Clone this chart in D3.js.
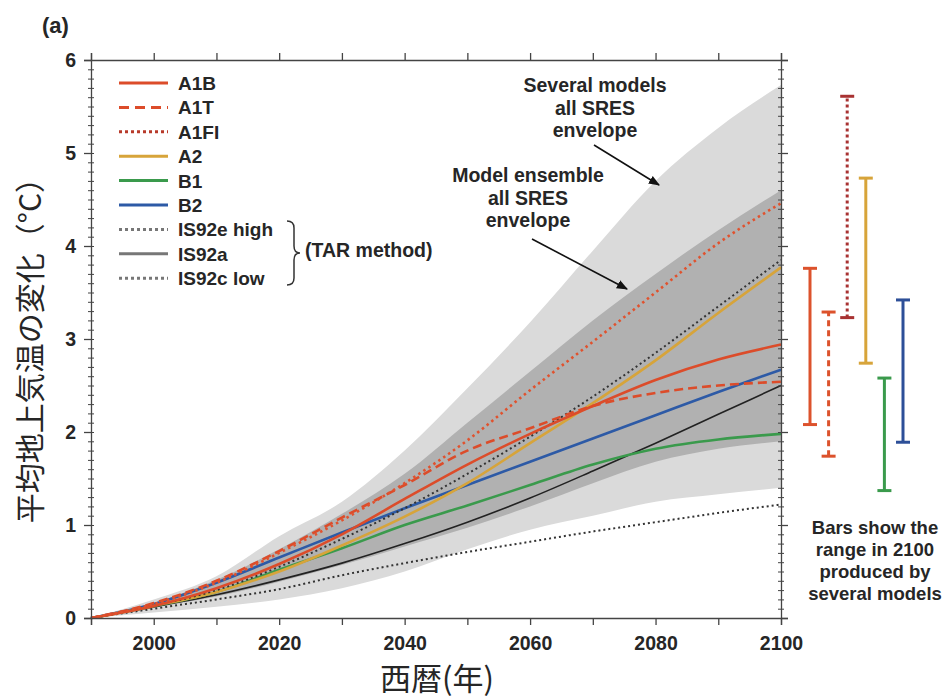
<!DOCTYPE html>
<html>
<head>
<meta charset="UTF-8">
<title></title>
<style>
    body { margin: 0; background: #fff; }
    text { font-family: "Liberation Sans", Arial, sans-serif; fill: #262626; }
    .jp { font-family: "Noto Sans CJK JP", sans-serif; }
</style>
</head>
<body>
<div id="chart"></div>
<script src="https://cdn.jsdelivr.net/npm/d3@7"></script>
<script>
    // data (temperature change from 1990, degC)
    var years = [1990, 2000, 2010, 2020, 2030, 2040, 2050, 2060, 2070, 2080, 2090, 2100];
    var a1b = [0, 0.13, 0.32, 0.58, 0.90, 1.28, 1.65, 1.98, 2.28, 2.56, 2.78, 2.94];
    var a1t = [0, 0.16, 0.40, 0.72, 1.08, 1.43, 1.80, 2.04, 2.28, 2.42, 2.50, 2.54];
    var a1fi = [0, 0.15, 0.38, 0.70, 1.05, 1.45, 1.91, 2.45, 2.97, 3.50, 4.03, 4.46];
    var a2 = [0, 0.13, 0.28, 0.50, 0.78, 1.09, 1.45, 1.88, 2.31, 2.77, 3.28, 3.77];
    var b1 = [0, 0.13, 0.28, 0.52, 0.75, 1.00, 1.21, 1.43, 1.65, 1.82, 1.92, 1.98];
    var b2 = [0, 0.15, 0.38, 0.65, 0.92, 1.18, 1.43, 1.68, 1.93, 2.18, 2.43, 2.67];
    var is92e = [0, 0.13, 0.30, 0.55, 0.85, 1.18, 1.55, 1.95, 2.38, 2.85, 3.35, 3.85];
    var is92a = [0, 0.12, 0.25, 0.41, 0.59, 0.80, 1.03, 1.29, 1.58, 1.88, 2.19, 2.50];
    var is92c = [0, 0.10, 0.20, 0.31, 0.46, 0.59, 0.71, 0.82, 0.93, 1.03, 1.13, 1.22];

    // envelopes
    var lightTop = [0, 0.20, 0.45, 0.88, 1.25, 1.80, 2.47, 3.18, 3.95, 4.70, 5.27, 5.73];
    var lightBot = [0, 0.06, 0.12, 0.20, 0.32, 0.50, 0.74, 0.95, 1.10, 1.25, 1.33, 1.40];
    var darkTop = [0, 0.16, 0.41, 0.74, 1.12, 1.55, 2.10, 2.65, 3.20, 3.70, 4.17, 4.60];
    var darkBot = [0, 0.11, 0.23, 0.39, 0.57, 0.77, 0.97, 1.20, 1.45, 1.68, 1.82, 1.90];

    // range bars in 2100
    var barNames = ["A1B", "A1T", "A1FI", "A2", "B1", "B2"];
    var barLow = [2.08, 1.74, 3.23, 2.74, 1.37, 1.89];
    var barHigh = [3.76, 3.29, 5.61, 4.73, 2.58, 3.42];

    var yTicks = [0, 1, 2, 3, 4, 5, 6];
    var xTickLabels = [2000, 2020, 2040, 2060, 2080, 2100];

    var width = 947, height = 699;
    var svg = d3.select("#chart").append("svg")
        .attr("width", width).attr("height", height);

    var x = d3.scaleLinear().domain([1990, 2100]).range([91, 781]);
    var y = d3.scaleLinear().domain([0, 6]).range([618, 60]);

    // envelopes
    var area = d3.area()
        .x(function (d) { return x(d.year); })
        .y0(function (d) { return y(d.lo); })
        .y1(function (d) { return y(d.hi); })
        .curve(d3.curveMonotoneX);
    var light = years.map(function (yr, i) { return {year: yr, lo: lightBot[i], hi: lightTop[i]}; });
    var dark = years.map(function (yr, i) { return {year: yr, lo: darkBot[i], hi: darkTop[i]}; });
    svg.append("path").attr("d", area(light)).attr("fill", "#dadada");
    svg.append("path").attr("d", area(dark)).attr("fill", "#b1b1b1");

    // scenario styles
    var series = [
        {name: "IS92c low", v: is92c, color: "#333", w: 2, dash: "2,3", lg: "#777"},
        {name: "IS92a", v: is92a, color: "#222", w: 1.6, dash: null, lg: "#777"},
        {name: "B1", v: b1, color: "#3a9a4c", w: 2.6, dash: null},
        {name: "B2", v: b2, color: "#2d5aa6", w: 2.6, dash: null},
        {name: "A2", v: a2, color: "#d7a43a", w: 2.6, dash: null},
        {name: "IS92e high", v: is92e, color: "#333", w: 2, dash: "2,3", lg: "#777"},
        {name: "A1T", v: a1t, color: "#dc4c2a", w: 2.6, dash: "9,5"},
        {name: "A1B", v: a1b, color: "#dc4c2a", w: 2.6, dash: null},
        {name: "A1FI", v: a1fi, color: "#e0522e", w: 2.6, dash: "2.5,3.5"}
    ];
    var line = d3.line()
        .x(function (d, i) { return x(years[i]); })
        .y(function (d) { return y(d); })
        .curve(d3.curveMonotoneX);
    svg.append("g").selectAll("path")
        .data(series)
        .join("path")
        .attr("d", function (d) { return line(d.v); })
        .attr("fill", "none")
        .attr("stroke", function (d) { return d.color; })
        .attr("stroke-width", function (d) { return d.w; })
        .attr("stroke-dasharray", function (d) { return d.dash; });

    // axes
    var decades = d3.range(1990, 2101, 10);
    var minorY = d3.range(0, 6.001, 0.1);
    var axBottom = svg.append("g").attr("transform", "translate(0,618)")
        .call(d3.axisBottom(x).tickValues(decades).tickSize(7)
            .tickFormat(function (d) { return xTickLabels.indexOf(d) >= 0 ? d : ""; }));
    var axTop = svg.append("g").attr("transform", "translate(0,60)")
        .call(d3.axisTop(x).tickValues(decades).tickSize(7).tickFormat(""));
    var axLeft = svg.append("g").attr("transform", "translate(91,0)")
        .call(d3.axisLeft(y).tickValues(yTicks).tickSize(7).tickFormat(d3.format("d")));
    var axRight = svg.append("g").attr("transform", "translate(781,0)")
        .call(d3.axisRight(y).tickValues(yTicks).tickSize(7).tickFormat(""));
    var minorL = svg.append("g").attr("transform", "translate(94,0)")
        .call(d3.axisLeft(y).tickValues(minorY).tickSize(6).tickFormat(""));
    var minorR = svg.append("g").attr("transform", "translate(778,0)")
        .call(d3.axisRight(y).tickValues(minorY).tickSize(6).tickFormat(""));
    minorL.select(".domain").remove();
    minorR.select(".domain").remove();
    [axBottom, axTop, axLeft, axRight, minorL, minorR].forEach(function (g) {
        g.selectAll("path, line").attr("stroke", "#444").attr("stroke-width", 1.3);
        g.selectAll("text").attr("fill", "#262626").attr("font-size", 19.5)
            .attr("font-weight", "bold")
            .attr("font-family", "Liberation Sans, Arial, sans-serif");
    });
    minorL.selectAll("line").attr("stroke-width", 1);
    minorR.selectAll("line").attr("stroke-width", 1);
    axBottom.selectAll("text").attr("dy", "1.15em");
    axLeft.selectAll("text").attr("dx", "-0.25em");

    // legend
    var lgRows = ["A1B", "A1T", "A1FI", "A2", "B1", "B2", "IS92e high", "IS92a", "IS92c low"];
    var legend = svg.append("g").attr("transform", "translate(119,83)");
    lgRows.forEach(function (name, i) {
        var s = series.filter(function (d) { return d.name === name; })[0];
        var col = s.lg || s.color;
        if (name === "A1FI") col = "#b83a2a";
        var g = legend.append("g").attr("transform", "translate(0," + (i * 24.4) + ")");
        g.append("line").attr("x1", 0).attr("x2", 49).attr("y1", 0).attr("y2", 0)
            .attr("stroke", col).attr("stroke-width", 3)
            .attr("stroke-dasharray", name === "A1T" ? "10,6" : (s.dash ? "3,3" : null));
        g.append("text").attr("x", 59).attr("y", 7).attr("font-size", 19)
            .attr("font-weight", "bold").text(name);
    });
    // brace + TAR method
    svg.append("path")
        .attr("d", "M287,221 Q294,221 294,228 L294,246 Q294,253 300,253 Q294,253 294,260 L294,278 Q294,285 287,285")
        .attr("fill", "none").attr("stroke", "#333").attr("stroke-width", 1.5);
    svg.append("text").attr("x", 305).attr("y", 257).attr("font-size", 19.5)
        .attr("font-weight", "bold").text("(TAR method)");

    // annotations
    svg.append("defs").append("marker")
        .attr("id", "ah").attr("viewBox", "0 0 10 10").attr("refX", 9).attr("refY", 5)
        .attr("markerWidth", 7).attr("markerHeight", 7).attr("orient", "auto")
        .append("path").attr("d", "M0,1 L10,5 L0,9 Z").attr("fill", "#111");
    var notes = [
        {lines: ["Several models", "all SRES", "envelope"], cx: 595, y0: 92, ax: [[594, 145], [659, 185]]},
        {lines: ["Model ensemble", "all SRES", "envelope"], cx: 528, y0: 182, ax: [[532, 239], [627, 289]]}
    ];
    notes.forEach(function (n) {
        n.lines.forEach(function (t, i) {
            svg.append("text").attr("x", n.cx).attr("y", n.y0 + i * 22.5)
                .attr("text-anchor", "middle").attr("font-size", 19.5)
                .attr("font-weight", "bold").text(t);
        });
        svg.append("line")
            .attr("x1", n.ax[0][0]).attr("y1", n.ax[0][1])
            .attr("x2", n.ax[1][0]).attr("y2", n.ax[1][1])
            .attr("stroke", "#111").attr("stroke-width", 1.6)
            .attr("marker-end", "url(#ah)");
    });

    // range bars
    var bx = d3.scalePoint().domain(barNames).range([810, 903]);
    var barStyle = {
        A1B: {c: "#dc522c", dash: null},
        A1T: {c: "#dc522c", dash: "6,4"},
        A1FI: {c: "#a83232", dash: "3,3"},
        A2: {c: "#d7a43a", dash: null},
        B1: {c: "#3a9a4c", dash: null},
        B2: {c: "#2d4f98", dash: null}
    };
    var bars = svg.append("g");
    barNames.forEach(function (nm, i) {
        var st = barStyle[nm];
        var cx = bx(nm);
        bars.append("line").attr("x1", cx).attr("x2", cx)
            .attr("y1", y(barLow[i])).attr("y2", y(barHigh[i]))
            .attr("stroke", st.c).attr("stroke-width", 3)
            .attr("stroke-dasharray", st.dash);
        [barLow[i], barHigh[i]].forEach(function (v) {
            bars.append("line").attr("x1", cx - 7).attr("x2", cx + 7)
                .attr("y1", y(v)).attr("y2", y(v))
                .attr("stroke", st.c).attr("stroke-width", 3);
        });
    });
    ["Bars show the", "range in 2100", "produced by", "several models"].forEach(function (t, i) {
        svg.append("text").attr("x", 875).attr("y", 534 + i * 22)
            .attr("text-anchor", "middle").attr("font-size", 18.5)
            .attr("font-weight", "bold").text(t);
    });

    // titles
    svg.append("text").attr("x", 42).attr("y", 33).attr("font-size", 22)
        .attr("font-weight", "bold").text("(a)");
    svg.append("text").attr("class", "jp")
        .attr("transform", "translate(41,343) rotate(-90)")
        .attr("text-anchor", "middle").attr("font-size", 30)
        .text("平均地上気温の変化（°C）");
    svg.append("text").attr("class", "jp")
        .attr("x", 437).attr("y", 690)
        .attr("text-anchor", "middle").attr("font-size", 31)
        .text("西暦(年)");
</script>
</body>
</html>
